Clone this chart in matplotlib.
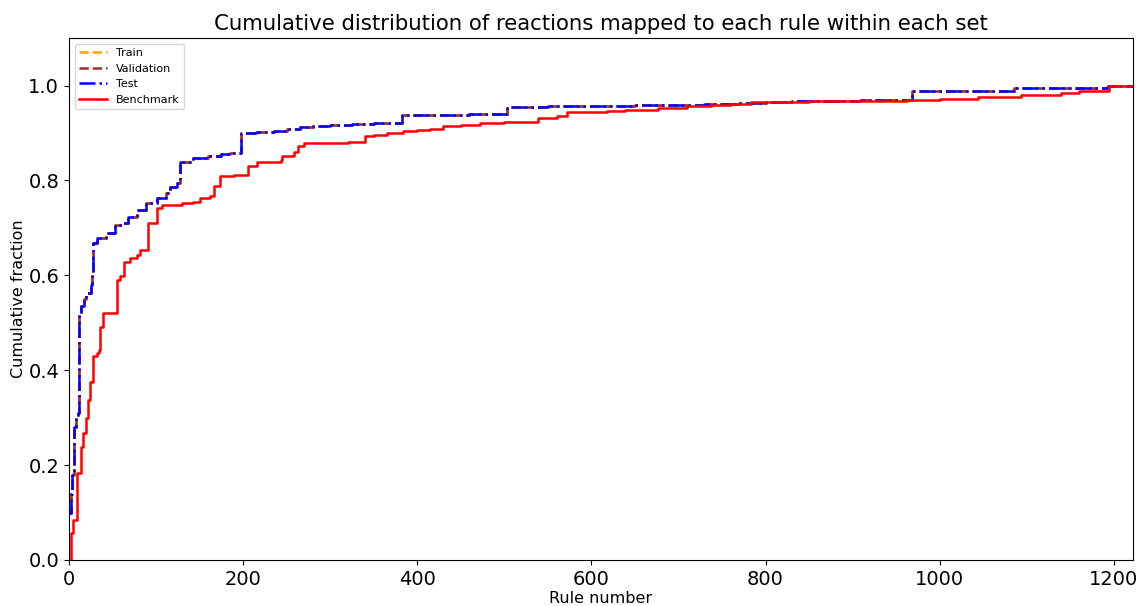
"""Cumulative distribution of reactions mapped to each rule, per data split."""

import matplotlib
matplotlib.use("Agg")
import matplotlib.pyplot as plt

# Rule number at which the cumulative fraction changes (step breakpoints).
test_rules = [0, 2, 4, 6, 8, 10, 12, 14, 17, 20, 25, 27, 28, 32, 43, 53, 62,
              68, 78, 88, 101, 112, 116, 124, 128, 143, 160, 175, 185, 198,
              215, 235, 250, 265, 280, 300, 325, 350, 383, 419, 460, 503,
              550, 587, 650, 700, 729, 770, 800, 830, 860, 909, 968, 1030,
              1085, 1140, 1193, 1222]
test_frac = [0.10, 0.14, 0.18, 0.28, 0.30, 0.31, 0.52, 0.535, 0.55, 0.563,
             0.58, 0.605, 0.669, 0.679, 0.69, 0.707, 0.71, 0.724, 0.738,
             0.753, 0.763, 0.774, 0.787, 0.795, 0.84, 0.848, 0.851, 0.855,
             0.858, 0.90, 0.903, 0.905, 0.908, 0.912, 0.915, 0.918, 0.920,
             0.922, 0.937, 0.938, 0.940, 0.954, 0.956, 0.958, 0.959, 0.960,
             0.962, 0.963, 0.965, 0.967, 0.968, 0.970, 0.988, 0.989, 0.995,
             0.996, 1.0, 1.0]

# train / validation follow the test split almost exactly
train_rules, train_frac = test_rules, test_frac
val_rules, val_frac = test_rules, test_frac

bench_rules = [0, 2, 5, 9, 14, 16, 19, 22, 24, 28, 32, 35, 36, 39, 55, 59,
               63, 70, 78, 82, 91, 101, 107, 130, 143, 151, 162, 166, 174,
               189, 206, 216, 243, 245, 258, 263, 270, 297, 320, 340, 350,
               365, 384, 400, 415, 430, 450, 472, 500, 539, 561, 572, 590,
               618, 639, 677, 710, 737, 760, 783, 850, 900, 962, 1000, 1044,
               1093, 1139, 1160, 1194, 1222]
bench_frac = [0.0, 0.056, 0.084, 0.183, 0.239, 0.267, 0.30, 0.337, 0.376,
              0.429, 0.436, 0.443, 0.492, 0.52, 0.59, 0.598, 0.629, 0.636,
              0.643, 0.654, 0.71, 0.742, 0.749, 0.752, 0.755, 0.763, 0.767,
              0.788, 0.809, 0.812, 0.83, 0.84, 0.843, 0.852, 0.861, 0.872,
              0.878, 0.880, 0.882, 0.893, 0.896, 0.900, 0.904, 0.907, 0.909,
              0.915, 0.918, 0.922, 0.923, 0.932, 0.935, 0.944, 0.945, 0.946,
              0.948, 0.953, 0.956, 0.960, 0.962, 0.965, 0.967, 0.968, 0.970,
              0.972, 0.976, 0.980, 0.984, 0.989, 1.0, 1.0]

fig, ax = plt.subplots(figsize=(11.38, 6.06), dpi=100)
fig.subplots_adjust(left=0.0606, right=0.9956, top=0.937, bottom=0.076)

ax.step(train_rules, train_frac, where="post", color="orange",
        linestyle="--", linewidth=1.8, label="Train")
ax.step(val_rules, val_frac, where="post", color="brown",
        linestyle="--", linewidth=1.8, label="Validation")
ax.step(test_rules, test_frac, where="post", color="blue",
        linestyle="-.", linewidth=1.8, label="Test")
ax.step(bench_rules, bench_frac, where="post", color="red",
        linestyle="-", linewidth=1.8, label="Benchmark")

ax.set_xlim(0, 1222)
ax.set_ylim(0, 1.1)
ax.set_xticks(range(0, 1201, 200))
ax.set_yticks([0.0, 0.2, 0.4, 0.6, 0.8, 1.0])
ax.tick_params(axis="both", labelsize=14)

ax.set_title("Cumulative distribution of reactions mapped to each rule within each set",
             fontsize=15.3)
ax.set_xlabel("Rule number", fontsize=11.5, labelpad=2)
ax.set_ylabel("Cumulative fraction", fontsize=11.5, labelpad=2)
ax.legend(loc="upper left", fontsize=8, handlelength=2.5)

fig.savefig("out.png", dpi=100)
